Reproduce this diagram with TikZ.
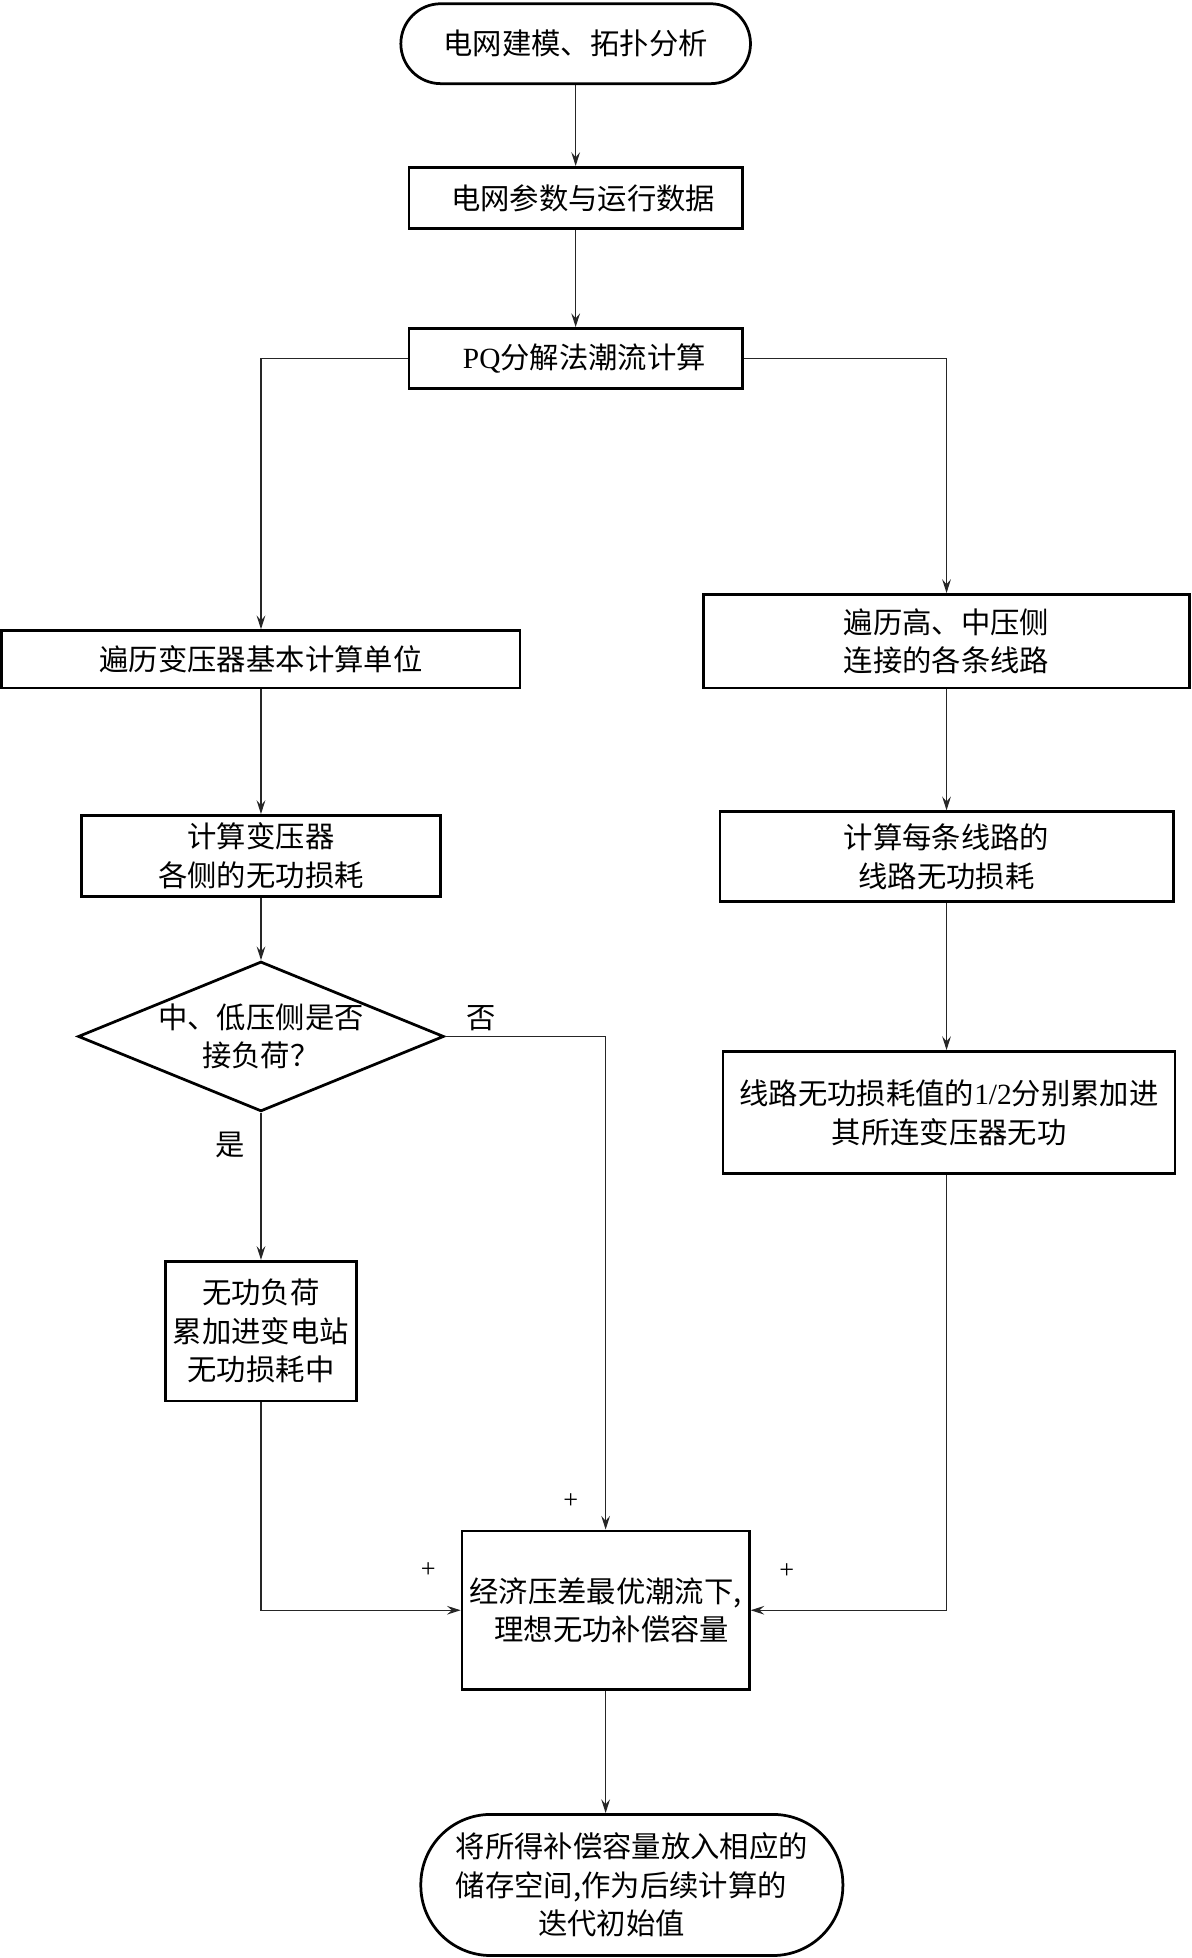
\documentclass[tikz,border=0pt]{standalone}
\usepackage{fontspec}
\setmainfont{Liberation Serif}
\newfontfamily\cjk{Noto Sans CJK SC}
\usetikzlibrary{arrows.meta,shapes.geometric}
\tikzset{
  every node/.style={font=\cjk\fontsize{23.5pt}{31pt}\selectfont},
  boxnode/.style={draw, line width=2.2pt, rectangle, inner sep=0pt, align=center},
  termnode/.style={boxnode, rounded corners=#1},
  dianode/.style={draw, line width=2.2pt, diamond, inner sep=0pt},
  arr/.style={line width=1pt, draw=black!85, -{Stealth[length=11pt,width=7pt,inset=4pt]}},
  lbl/.style={inner sep=0pt},
  plus/.style={inner sep=0pt, font=\fontsize{21pt}{21pt}\selectfont}
}
\begin{document}
\begin{tikzpicture}[x=1pt,y=-1pt]
\useasboundingbox (0,0) rectangle (954,1568);
% nodes
\node[termnode=32pt, minimum width=280pt, minimum height=64pt] (start) at (461,35) {电网建模、拓扑分析};
\node[boxnode, minimum width=267pt, minimum height=49pt] (b2) at (461,158.5) {\hspace*{12pt}电网参数与运行数据};
\node[boxnode, minimum width=267pt, minimum height=48pt] (pq) at (461,287) {\hspace*{14pt}{\rmfamily PQ}分解法潮流计算};
\node[boxnode, minimum width=415pt, minimum height=46pt] (lb1) at (209,528) {遍历变压器基本计算单位};
\node[boxnode, minimum width=389pt, minimum height=75pt] (rb1) at (758,513.5) {遍历高、中压侧\\连接的各条线路};
\node[boxnode, minimum width=287pt, minimum height=65pt] (lb2) at (209,685.5) {计算变压器\\各侧的无功损耗};
\node[boxnode, minimum width=363pt, minimum height=72pt] (rb2) at (758,686) {计算每条线路的\\线路无功损耗};
\node[dianode, minimum width=293pt, minimum height=120pt] (dia) at (209,830) {};
\node[lbl, align=center] (diatext) at (dia.center) {中、低压侧是否\\接负荷？};
\node[boxnode, minimum width=362pt, minimum height=98pt] (rb3) at (760,891) {线路无功损耗值的{\rmfamily 1/2}分别累加进\\其所连变压器无功};
\node[boxnode, minimum width=153pt, minimum height=112pt] (lb3) at (209,1066) {无功负荷\\累加进变电站\\无功损耗中};
\node[boxnode, minimum width=230pt, minimum height=127pt] (mid) at (485,1289.5) {经济压差最优潮流下,\\\hspace*{10pt}理想无功补偿容量};
\node[termnode=56pt, minimum width=338pt, minimum height=113pt, align=left] (end) at (506,1509.5) {\fontsize{23.5pt}{28.5pt}\selectfont 将所得补偿容量放入相应的\\储存空间,作为后续计算的\\\hspace*{66pt}迭代初始值};
% labels
\node[lbl] (no) at (385,815) {否};
\node[lbl] (yes) at (184,917) {是};
\node[plus] (p1) at (457,1202) {+};
\node[plus] (p2) at (343,1257) {+};
\node[plus] (p3) at (630,1258) {+};
% connectors
\draw[arr] (start) -- (b2);
\draw[arr] (b2) -- (pq);
\draw[arr] (pq.west) -| (lb1.north);
\draw[arr] (pq.east) -| (rb1.north);
\draw[arr] (lb1) -- (lb2);
\draw[arr] (lb2.south) -- (dia.north);
\draw[arr] (dia.south) -- (lb3.north);
\draw[arr] (rb1) -- (rb2);
\draw[arr] (rb2.south) -- (rb2.south |- rb3.north);
\draw[arr] (dia.east) -| (mid.north);
\draw[arr] (lb3.south) |- (mid.west);
\draw[arr] (rb2.south |- rb3.south) |- (mid.east);
\draw[arr] (mid.south) -- (mid.south |- end.north);
\end{tikzpicture}
\end{document}
